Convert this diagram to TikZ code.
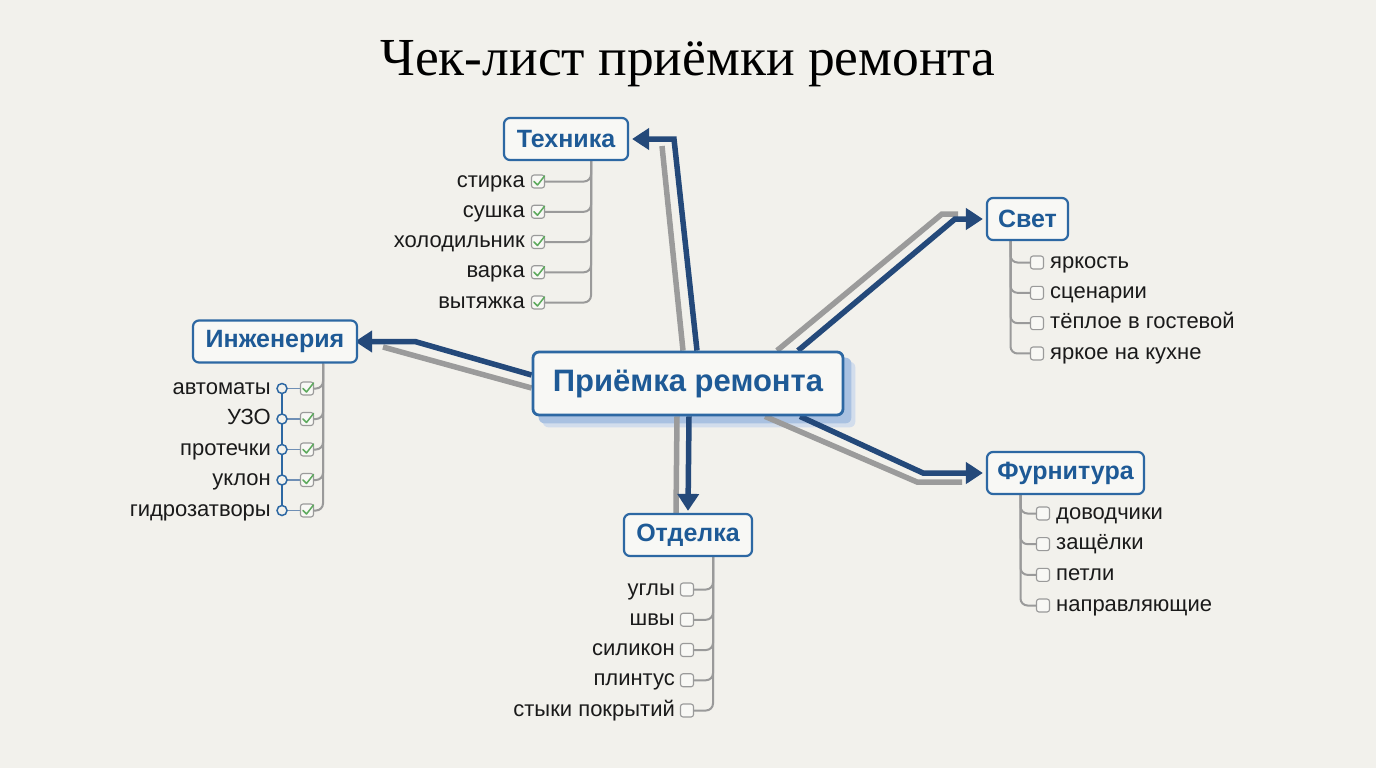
\documentclass[tikz,border=0pt]{standalone}
\usepackage{fontspec}
\setmainfont{Liberation Sans}
\newfontfamily\titlefont{Liberation Serif}
\usetikzlibrary{arrows.meta}
\pgfdeclarelayer{back}\pgfdeclarelayer{bg}\pgfdeclarelayer{mid}\pgfsetlayers{back,bg,mid,main}
\definecolor{bgc}{HTML}{F2F1EC}
\definecolor{boxfill}{HTML}{F8F8F5}
\definecolor{boxblue}{HTML}{2D68A3}
\definecolor{txtblue}{HTML}{1E5A96}
\definecolor{darkarrow}{HTML}{24497A}
\definecolor{arrowgray}{HTML}{9B9B9B}
\definecolor{linegray}{HTML}{9A9A9A}
\definecolor{cbgray}{HTML}{9A9A9A}
\definecolor{checkgreen}{HTML}{5DAA5D}
\definecolor{shadowA}{HTML}{A9C1E1}
\definecolor{shadowB}{HTML}{D2DDEC}
\definecolor{linkblue}{HTML}{6F8FB5}
\definecolor{leaftext}{HTML}{1A1A1A}
\begin{document}
\begin{tikzpicture}[x=1pt,y=-1pt,
  catbox/.style={draw=boxblue, line width=2.2pt, rounded corners=6pt, fill=boxfill,
    text=txtblue, font=\bfseries\fontsize{25}{29}\selectfont, minimum height=42pt, inner xsep=6pt},
  mainbox/.style={draw=boxblue, line width=2.8pt, rounded corners=6pt, fill=boxfill,
    text=txtblue, font=\bfseries\fontsize{31}{35}\selectfont, minimum height=63pt, minimum width=310pt},
  leaf/.style={inner sep=0pt, text=leaftext, font=\fontsize{22}{26}\selectfont, text height=15.8pt, text depth=4.4pt},
  cb/.style={draw=cbgray, line width=1.1pt, fill=boxfill, rounded corners=2.5pt, minimum size=13pt, inner sep=0pt},
  check/.style={draw=checkgreen, line width=1.5pt, line cap=round, line join=round},
  leafline/.style={draw=linegray, line width=2pt, rounded corners=7pt},
  circ/.style={circle, draw=boxblue, line width=1.5pt, fill=bgc, minimum size=10pt, inner sep=0pt},
  bluearrow/.style={draw=darkarrow, line width=5.5pt, -{Triangle[width=21pt,length=17pt]}},
  grayline/.style={draw=arrowgray, line width=5.5pt}
]
\begin{pgfonlayer}{back}
\fill[bgc] (0,0) rectangle (1376,768);
\end{pgfonlayer}
\useasboundingbox (0,0) rectangle (1376,768);

% title
\node[font=\titlefont\fontsize{53.5}{60}\selectfont, text=black] (title) at (688,64) {Чек-лист приёмки ремонта};

% central node
\node[mainbox] (c) at (688,383.5) {Приёмка ремонта};
\begin{pgfonlayer}{bg}
  \fill[shadowB, rounded corners=6pt] ([shift={(11pt,-11pt)}]c.south west) rectangle ([shift={(11pt,-11pt)}]c.north east);
  \fill[shadowA, rounded corners=6pt] ([shift={(7pt,-7pt)}]c.south west) rectangle ([shift={(7pt,-7pt)}]c.north east);
\end{pgfonlayer}

% category nodes
\node[catbox, minimum width=124pt] (tech) at (566,139) {Техника};
\node[catbox, minimum width=164pt] (eng) at (275,341.5) {Инженерия};
\node[catbox, minimum width=81pt] (svet) at (1027.5,219) {Свет};
\node[catbox, minimum width=157pt] (furn) at (1065.5,473) {Фурнитура};
\node[catbox, minimum width=128pt] (otd) at (688,535) {Отделка};

% main connectors
\coordinate (tbend) at (674,139);
\coordinate (tgend) at (662,146);
\coordinate (ebend) at (415,341.5);
\coordinate (egend) at (383,347);
\coordinate (sbend) at (955,219);
\coordinate (sgbend) at (942,214);
\coordinate (sgend) at (958,214);
\coordinate (fbend) at (923,473);
\coordinate (fgbend) at (917,482);
\coordinate (fgend) at (962,482);
\begin{pgfonlayer}{mid}
  % Техника
  \draw[grayline] ([xshift=-5pt]c.north) -- (tgend);
  \draw[bluearrow] ([xshift=9pt]c.north) -- (tbend) -- ([xshift=3pt]tech.east);
  % Инженерия
  \draw[grayline] ([yshift=-4.5pt]c.west) -- (egend);
  \draw[bluearrow] ([yshift=8.5pt]c.west) -- (ebend) -- ([xshift=-3pt]eng.east);
  % Свет
  \draw[grayline] ([xshift=89pt]c.north) -- (sgbend) -- (sgend);
  \draw[bluearrow] ([xshift=110pt]c.north) -- (sbend) -- ([xshift=-3pt]svet.west);
  % Фурнитура
  \draw[grayline] ([xshift=77pt]c.south) -- (fgbend) -- (fgend);
  \draw[bluearrow] ([xshift=112pt]c.south) -- (fbend) -- ([xshift=-3pt]furn.west);
  % Отделка
  \draw[grayline] ([xshift=-11pt]c.south) -- ([xshift=-12pt]otd.north);
  \draw[bluearrow] ([xshift=1pt]c.south) -- ([yshift=2pt]otd.north);
\end{pgfonlayer}

% Техника items
\foreach \t [count=\i] in {стирка,сушка,холодильник,варка,вытяжка}{
  \pgfmathsetmacro\yy{181.5+30.25*(\i-1)}
  \begin{pgfonlayer}{mid}
    \draw[leafline] ([xshift=25pt]tech.south) |- (538,\yy);
  \end{pgfonlayer}
  \node[cb] (tc\i) at (538,\yy) {};
  \node[leaf, anchor=east] (tl\i) at (525,\yy) {\t};
  \draw[check] ([shift={(-4pt,0pt)}]tc\i.center) -- ++(3.5pt,-3.5pt) -- ++(7pt,9pt);
}

% Инженерия items
\foreach \t [count=\i] in {автоматы,УЗО,протечки,уклон,гидрозатворы}{
  \pgfmathsetmacro\yy{388.5+30.5*(\i-1)}
  \begin{pgfonlayer}{mid}
    \draw[leafline] ([xshift=48pt]eng.south) |- (307,\yy);
  \end{pgfonlayer}
  \node[cb] (ecb\i) at (307,\yy) {};
  \node[circ] (ec\i) at (282,\yy) {};
  \node[leaf, anchor=east] (el\i) at (271,\yy) {\t};
  \draw[check] ([shift={(-4pt,0pt)}]ecb\i.center) -- ++(3.5pt,-3.5pt) -- ++(7pt,9pt);
  \begin{pgfonlayer}{mid}
    \draw[linkblue, line width=1.5pt] (ec\i.center) -- (ecb\i.west);
  \end{pgfonlayer}
}
\begin{pgfonlayer}{mid}
  \draw[boxblue, line width=2pt] (ec1.center) -- (ec5.center);
\end{pgfonlayer}

% Свет items
\foreach \t [count=\i] in {яркость,сценарии,тёплое в гостевой,яркое на кухне}{
  \pgfmathsetmacro\yy{262.5+30.33*(\i-1)}
  \begin{pgfonlayer}{mid}
    \draw[leafline] ([xshift=-17pt]svet.south) |- (1037,\yy);
  \end{pgfonlayer}
  \node[cb] (sc\i) at (1037,\yy) {};
  \node[leaf, anchor=west] (sl\i) at (1050,\yy) {\t};
}

% Фурнитура items
\foreach \t [count=\i] in {доводчики,защёлки,петли,направляющие}{
  \pgfmathsetmacro\yy{513.5+30.67*(\i-1)}
  \begin{pgfonlayer}{mid}
    \draw[leafline] ([xshift=-45pt]furn.south) |- (1043,\yy);
  \end{pgfonlayer}
  \node[cb] (fc\i) at (1043,\yy) {};
  \node[leaf, anchor=west] (fl\i) at (1056,\yy) {\t};
}

% Отделка items
\foreach \t [count=\i] in {углы,швы,силикон,плинтус,стыки покрытий}{
  \pgfmathsetmacro\yy{589.5+30.25*(\i-1)}
  \begin{pgfonlayer}{mid}
    \draw[leafline] ([xshift=25pt]otd.south) |- (687,\yy);
  \end{pgfonlayer}
  \node[cb] (oc\i) at (687,\yy) {};
  \node[leaf, anchor=east] (ol\i) at (675,\yy) {\t};
}
\end{tikzpicture}
\end{document}
